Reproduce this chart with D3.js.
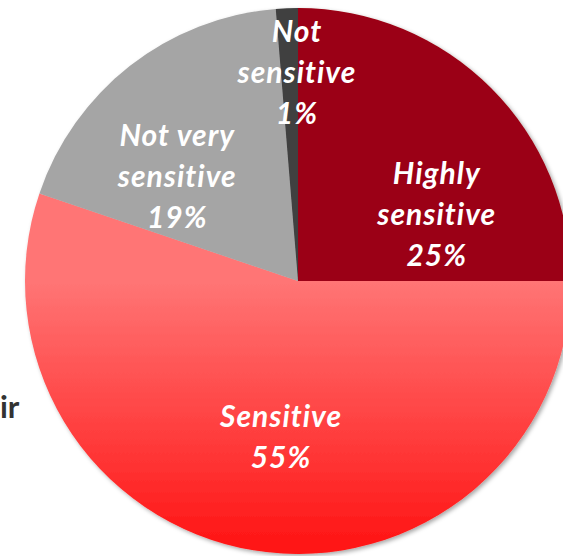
<!DOCTYPE html>
<html><head><meta charset="utf-8">
<script src="https://cdn.jsdelivr.net/npm/d3@7"></script>
<style>
html,body{margin:0;padding:0;background:#fff;overflow:hidden}
svg{display:block}
text{font-variant-ligatures:none;font-feature-settings:"liga" 0}
</style></head>
<body>
<svg id="chart" width="563" height="556"></svg>
<script>
// Data
const categories = ["Highly sensitive", "Sensitive", "Not very sensitive", "Not sensitive"];
const values = [25.0, 55.2, 18.5, 1.3];
const labelLines = [["Highly", "sensitive", "25%"], ["Sensitive", "55%"], ["Not very", "sensitive", "19%"], ["Not", "sensitive", "1%"]];
const sideText = "ir";

// Layout / style
const cx = 298, cy = 281, R = 273;
const colors = ["#9b0012", "url(#sensGrad)", "#a5a5a5", "#404040"];
const labelPolar = [[64.3, 154], [186.2, 157], [-49, 160], [-0.3, 209]]; // [deg clockwise from top, radius]
const fontSize = 30, lineH = 41;

const svg = d3.select("#chart");
const defs = svg.append("defs");
const grad = defs.append("linearGradient").attr("id", "sensGrad")
  .attr("gradientUnits", "userSpaceOnUse")
  .attr("x1", 0).attr("y1", 0).attr("x2", 0).attr("y2", R);
grad.append("stop").attr("offset", "0%").attr("stop-color", "#ff7575");
grad.append("stop").attr("offset", "100%").attr("stop-color", "#ff1212");
const f = defs.append("filter").attr("id", "shadow").attr("x", "-10%").attr("y", "-10%").attr("width", "120%").attr("height", "120%");
f.append("feDropShadow").attr("dx", 2).attr("dy", 2).attr("stdDeviation", 2)
  .attr("flood-color", "#000").attr("flood-opacity", 0.35);

const pie = d3.pie().sort(null).value(d => d)(values);
const arc = d3.arc().innerRadius(0).outerRadius(R);

const g = svg.append("g").attr("transform", `translate(${cx},${cy})`);
g.append("g").attr("filter", "url(#shadow)")
  .selectAll("path").data(pie).join("path")
  .attr("d", arc)
  .attr("fill", (d, i) => colors[i]);

const labels = g.append("g")
  .attr("font-family", "Lato, 'Open Sans', sans-serif")
  .attr("font-weight", "bold").attr("font-style", "italic")
  .attr("letter-spacing", 1)
  .attr("font-size", fontSize).attr("fill", "#fff").attr("text-anchor", "middle");

pie.forEach((d, i) => {
  const [deg, r] = labelPolar[i];
  const a = deg * Math.PI / 180;
  const x = r * Math.sin(a), y = -r * Math.cos(a);
  const lines = labelLines[i];
  const t = labels.append("text").attr("x", x).attr("y", y);
  lines.forEach((ln, k) => {
    t.append("tspan").attr("x", x)
      .attr("y", y + (k - (lines.length - 1) / 2) * lineH)
      .attr("dy", "0.35em").text(ln);
  });
});

svg.append("text").attr("x", 0).attr("y", 418)
  .attr("font-family", "Lato, 'Open Sans', sans-serif").attr("font-weight", "bold")
  .attr("font-size", 31).attr("fill", "#333").text(sideText);
</script>
</body></html>
